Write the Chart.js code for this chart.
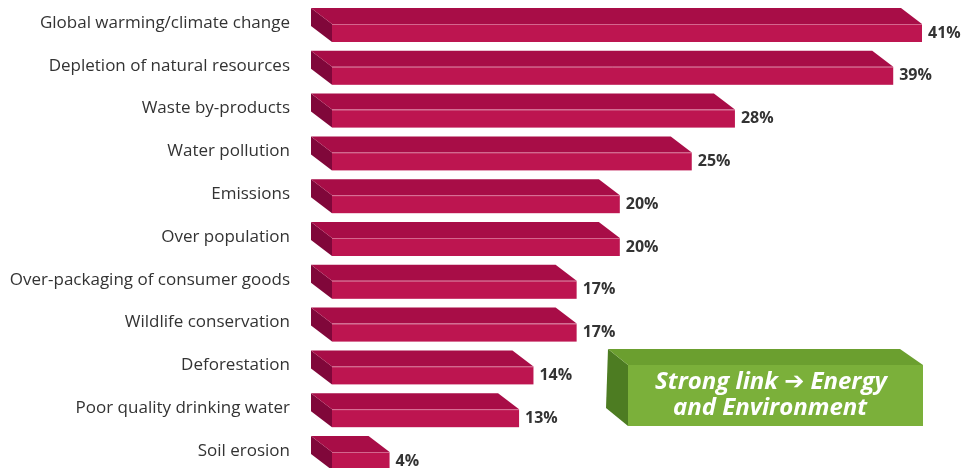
<!DOCTYPE html>
<html>
<head>
<meta charset="utf-8">
<script src="https://cdn.jsdelivr.net/npm/chart.js@4"></script>
<style>
  html, body { margin: 0; padding: 0; background: #fff; }
  #wrap { width: 961px; height: 468px; position: relative; }
</style>
</head>
<body>
<div id="wrap"><canvas id="chart"></canvas></div>
<script>
const categories = [
  'Global warming/climate change',
  'Depletion of natural resources',
  'Waste by-products',
  'Water pollution',
  'Emissions',
  'Over population',
  'Over-packaging of consumer goods',
  'Wildlife conservation',
  'Deforestation',
  'Poor quality drinking water',
  'Soil erosion'
];
const values = [41, 39, 28, 25, 20, 20, 17, 17, 14, 13, 4];
const calloutLines = ['Strong link \u2794 Energy', 'and Environment'];

// depth of the fake 3D extrusion
const DX = 21, DY = 16, FRONT_H = 18;

const bars3d = {
  id: 'bars3d',
  afterDatasetsDraw(chart) {
    const ctx = chart.ctx;
    const meta = chart.getDatasetMeta(0);
    ctx.save();
    meta.data.forEach((bar, i) => {
      const x0 = bar.base, x1 = bar.x;
      const top = bar.y - FRONT_H / 2, bot = bar.y + FRONT_H / 2;

      // left side
      ctx.fillStyle = '#80073a';
      ctx.beginPath();
      ctx.moveTo(x0 - DX, top - DY);
      ctx.lineTo(x0 - DX, bot - DY);
      ctx.lineTo(x0, bot);
      ctx.lineTo(x0, top);
      ctx.closePath();
      ctx.fill();

      // top face
      ctx.fillStyle = '#a80d47';
      ctx.beginPath();
      ctx.moveTo(x0 - DX, top - DY);
      ctx.lineTo(x1 - DX, top - DY);
      ctx.lineTo(x1, top);
      ctx.lineTo(x0, top);
      ctx.closePath();
      ctx.fill();

      // front face
      ctx.fillStyle = '#bd1550';
      ctx.fillRect(x0, top, x1 - x0, FRONT_H);

      // light edge
      ctx.strokeStyle = 'rgba(255,255,255,0.35)';
      ctx.lineWidth = 1;
      ctx.beginPath();
      ctx.moveTo(x0, top + 0.5);
      ctx.lineTo(x1, top + 0.5);
      ctx.stroke();

      // value label
      ctx.fillStyle = '#333333';
      ctx.font = 'bold 16px "Open Sans", sans-serif';
      ctx.textAlign = 'left';
      ctx.textBaseline = 'middle';
      ctx.fillText(values[i] + '%', x1 + 6, bar.y);
    });

    // green callout box
    const bx0 = 628, bx1 = 923, by0 = 365, by1 = 426;
    ctx.fillStyle = '#4d7c22';
    ctx.beginPath();
    ctx.moveTo(bx0 - 20, by0 - 16);
    ctx.lineTo(bx0 - 22, by1 - 18);
    ctx.lineTo(bx0, by1);
    ctx.lineTo(bx0, by0);
    ctx.closePath();
    ctx.fill();

    ctx.fillStyle = '#6b9f2f';
    ctx.beginPath();
    ctx.moveTo(bx0 - 20, by0 - 16);
    ctx.lineTo(bx1 - 23, by0 - 16);
    ctx.lineTo(bx1, by0);
    ctx.lineTo(bx0, by0);
    ctx.closePath();
    ctx.fill();

    ctx.fillStyle = '#7bb03a';
    ctx.fillRect(bx0, by0, bx1 - bx0, by1 - by0);

    ctx.fillStyle = '#ffffff';
    ctx.font = 'italic bold 24px "Open Sans", "DejaVu Sans", sans-serif';
    ctx.textAlign = 'center';
    ctx.textBaseline = 'middle';
    ctx.fillText(calloutLines[0], 771, 382);
    ctx.fillText(calloutLines[1], 770, 408);
    ctx.restore();
  }
};

new Chart(document.getElementById('chart'), {
  type: 'bar',
  data: {
    labels: categories,
    datasets: [{
      data: values,
      backgroundColor: 'transparent',
      barThickness: FRONT_H
    }]
  },
  options: {
    indexAxis: 'y',
    responsive: true,
    maintainAspectRatio: false,
    animation: false,
    layout: { padding: { top: 33, bottom: 7, right: 39, left: 0 } },
    plugins: { legend: { display: false }, tooltip: { enabled: false } },
    scales: {
      x: { display: false, min: 0, max: 41 },
      y: {
        offset: false,
        grid: { display: false, drawTicks: false },
        border: { display: false },
        ticks: {
          color: '#333333',
          font: { family: '"Open Sans", sans-serif', size: 17 },
          padding: 42,
          labelOffset: -10
        },
        afterFit(scale) {
          scale.width = 332;
          // tick padding would otherwise push the plot area in
          scale.paddingTop = 0;
          scale.paddingBottom = 0;
        }
      }
    }
  },
  plugins: [bars3d]
});
</script>
</body>
</html>
